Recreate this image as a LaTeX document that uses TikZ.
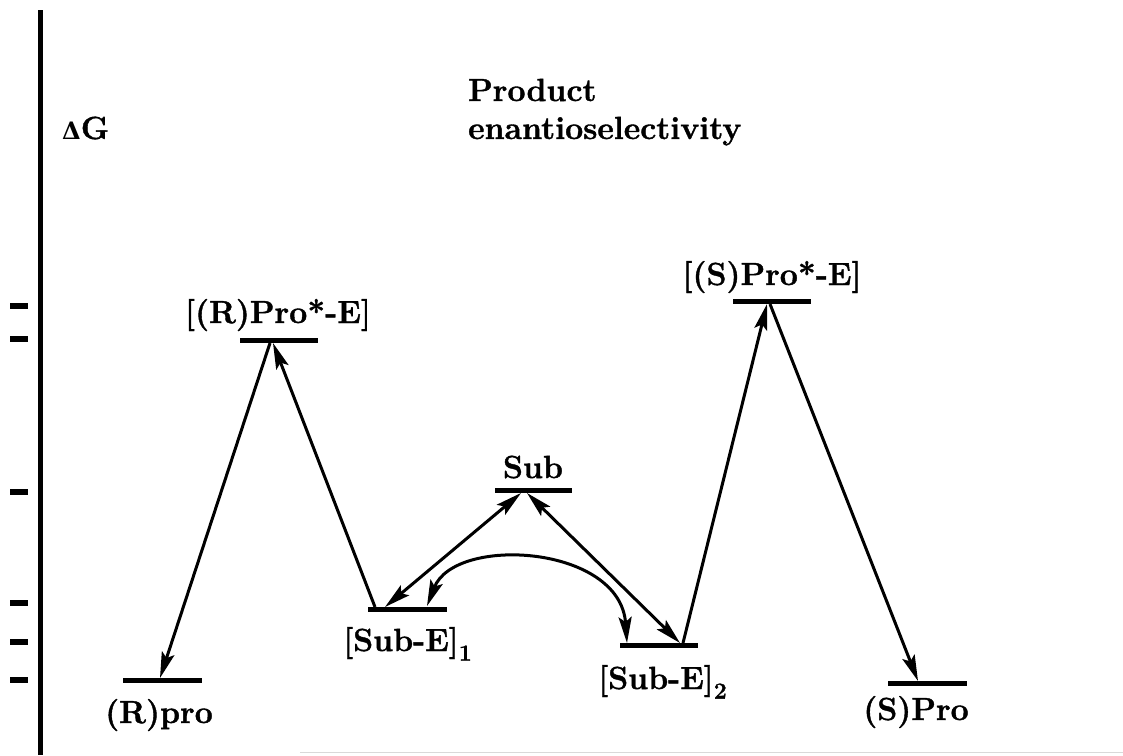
\documentclass[tikz,border=0pt]{standalone}
\usepackage[no-math]{fontspec}
\setmainfont{Latin Modern Roman}[BoldFeatures={FakeBold=1.2}]
\newfontfamily\deltafont{DejaVu Serif}
\usetikzlibrary{arrows.meta}
\tikzset{
  level/.style={line width=5pt},
  tick/.style={line width=5.5pt},
  tip/.tip={Stealth[length=26pt,width=13pt,inset=5pt]},
  arr/.style={line width=3pt, -tip},
  darr/.style={line width=3pt, tip-tip},
  lbl/.style={inner sep=0pt, font=\fontsize{32}{34}\selectfont\bfseries},
}
\newcommand{\mysub}[1]{\raisebox{-0.3em}{\fontsize{23}{23}\selectfont #1}}
\begin{document}
\begin{tikzpicture}[x=1pt,y=-1pt]
\useasboundingbox (0,0) rectangle (1123,755);
% axis
\draw[line width=5pt] (40,10) -- (40,755);
\draw[gray!30, line width=1pt] (300,752) -- (1123,752);
\foreach \yy in {306,339,492,603,642,680}
  \draw[tick] (10,\yy) -- (28,\yy);
% energy levels
\draw[level] (123,680) -- (202,680);
\draw[level] (240,340) -- (318,340);
\draw[level] (368,609) -- (447,609);
\draw[level] (495,490) -- (572,490);
\draw[level] (620,645) -- (698,645);
\draw[level] (733,301) -- (811,301);
\draw[level] (888,683) -- (967,683);
% anchor points
\coordinate (Rpro-a) at (160,678);
\coordinate (RPs-l) at (270,343);
\coordinate (RPs-r) at (273,343);
\coordinate (SE1-a) at (375,607);
\coordinate (SE1-b) at (385,607);
\coordinate (SE1-c) at (427,606);
\coordinate (Sub-a) at (521,493);
\coordinate (Sub-b) at (527,493);
\coordinate (SE2-a) at (680,643);
\coordinate (SE2-b) at (627,643);
\coordinate (SE2-c) at (683,643);
\coordinate (SPs-a) at (767,304);
\coordinate (SPs-b) at (770,304);
\coordinate (SPro-a) at (918,681);
% connectors
\draw[arr] (RPs-l) -- (Rpro-a);
\draw[arr] (SE1-a) -- (RPs-r);
\draw[darr] (SE1-b) -- (Sub-a);
\draw[darr] (Sub-b) -- (SE2-a);
\draw[darr] (SE1-c) .. controls (455,535) and (620,545) .. (SE2-b);
\draw[arr] (SE2-c) -- (SPs-a);
\draw[arr] (SPs-b) -- (SPro-a);
% labels
\node[lbl, anchor=base west] (dg) at (62,139) {{\deltafont\fontsize{24}{24}\selectfont Δ}G};
\node[lbl, anchor=base west] (t1) at (468,101) {Product};
\node[lbl, anchor=base west] (t2) at (468,139) {enantioselectivity};
\node[lbl, anchor=base] (lRPs) at (278,323) {[(R)Pro*-E]};
\node[lbl, anchor=base] (lSPs) at (772,285) {[(S)Pro*-E]};
\node[lbl, anchor=base] (lSub) at (533,478) {Sub};
\node[lbl, anchor=base west] (lSE1) at (343,651) {[Sub-E]\mysub{1}};
\node[lbl, anchor=base west] (lSE2) at (598,689) {[Sub-E]\mysub{2}};
\node[lbl, anchor=base] (lRpro) at (159,723) {(R)pro};
\node[lbl, anchor=base] (lSPro) at (916,720) {(S)Pro};
\end{tikzpicture}
\end{document}
